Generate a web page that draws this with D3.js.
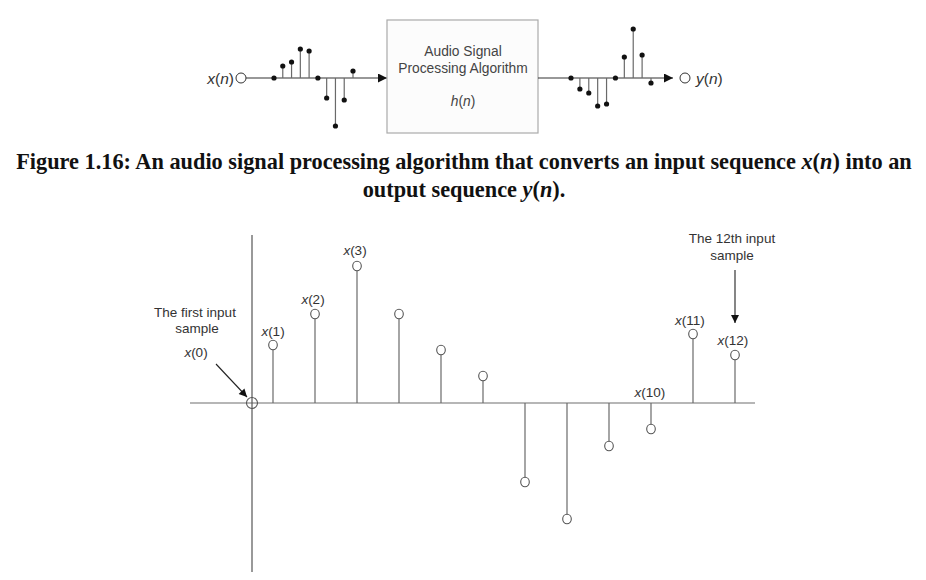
<!DOCTYPE html>
<html>
<head>
<meta charset="utf-8">
<script src="https://cdn.jsdelivr.net/npm/d3@7"></script>
<style>
  body { margin: 0; background: #fff; }
  svg text { font-family: "Liberation Sans", Arial, sans-serif; }
  svg text.caption { font-family: "Liberation Serif", "Times New Roman", serif; }
</style>
</head>
<body>
<svg id="fig" width="926" height="580"></svg>
<script>
// Top diagram: input / output sequences (relative heights)
const inputSeq  = [0, 0.24, 0.32, 0.58, 0.54, 0, -0.4, -0.96, -0.44, 0.14];
const outputSeq = [0, -0.22, -0.3, -0.56, -0.52, 0, 0.42, 0.98, 0.46, -0.1];

// Bottom chart: samples x(0)..x(12)
const sampleIdx = d3.range(0, 13);
const sampleVal = [0, 0.58, 0.89, 1.37, 0.89, 0.53, 0.27, -0.79, -1.16, -0.43, -0.26, 0.69, 0.48];
const labelled  = [1, 2, 3, 10, 11, 12];

const captionLines = [
  ["Figure 1.16: An audio signal processing algorithm that converts an input sequence ", "x", "(", "n", ") into an"],
  ["output sequence ", "y", "(", "n", ")."]
];

const svg = d3.select("#fig");
const ink = "#333", stemCol = "#6a6a6a";

// ---------- top block diagram ----------
const diag = svg.append("g");
const yTop = d3.scaleLinear().domain([-1, 1]).range([128, 28]);
const xIn  = d3.scaleLinear().domain([0, 9]).range([274, 353]);
const xOut = d3.scaleLinear().domain([0, 9]).range([571, 651]);

const defs = svg.append("defs");
defs.append("marker").attr("id", "tri")
    .attr("viewBox", "0 0 10 10").attr("refX", 10).attr("refY", 5)
    .attr("markerWidth", 13).attr("markerHeight", 9).attr("markerUnits", "userSpaceOnUse")
    .attr("orient", "auto")
  .append("path").attr("d", "M0,0L10,5L0,10z").attr("fill", "#111");
defs.append("marker").attr("id", "tri2")
    .attr("viewBox", "0 0 10 10").attr("refX", 10).attr("refY", 5)
    .attr("markerWidth", 10).attr("markerHeight", 8).attr("markerUnits", "userSpaceOnUse")
    .attr("orient", "auto")
  .append("path").attr("d", "M0,0L10,5L0,10z").attr("fill", "#111");

function mathText(g, parts, x, y, size, anchor, fill) {
  const t = g.append("text").attr("x", x).attr("y", y)
      .attr("font-size", size).attr("text-anchor", anchor).attr("fill", fill);
  parts.forEach(p => {
    t.append("tspan").attr("font-style", (p === "x" || p === "n" || p === "y" || p === "h") ? "italic" : "normal").text(p);
  });
  return t;
}

const y0 = yTop(0);
// input line
mathText(diag, ["x", "(", "n", ")"], 234, y0 + 5.5, 15.5, "end", ink);
diag.append("circle").attr("cx", 241).attr("cy", y0).attr("r", 5)
    .attr("fill", "#fff").attr("stroke", ink).attr("stroke-width", 1);
diag.append("line").attr("x1", 246).attr("x2", 387).attr("y1", y0).attr("y2", y0)
    .attr("stroke", ink).attr("stroke-width", 1.2).attr("marker-end", "url(#tri)");

function drawSeq(g, seq, xs) {
  g.selectAll(null).data(seq).enter().append("line")
      .attr("x1", (d, i) => xs(i)).attr("x2", (d, i) => xs(i))
      .attr("y1", y0).attr("y2", d => yTop(d))
      .attr("stroke", stemCol).attr("stroke-width", 1.2);
  g.selectAll(null).data(seq).enter().append("circle")
      .attr("cx", (d, i) => xs(i)).attr("cy", d => yTop(d))
      .attr("r", 2.6).attr("fill", "#111");
}
drawSeq(diag, inputSeq, xIn);

// processing box
diag.append("rect").attr("x", 387).attr("y", 20).attr("width", 151).attr("height", 113)
    .attr("fill", "#fcfcfc").attr("stroke", "#aaa").attr("stroke-width", 1.2);
diag.append("text").attr("x", 463).attr("y", 56).attr("text-anchor", "middle")
    .attr("font-size", 13.8).attr("fill", "#444").text("Audio Signal");
diag.append("text").attr("x", 463).attr("y", 73).attr("text-anchor", "middle")
    .attr("font-size", 13.8).attr("fill", "#444").text("Processing Algorithm");
mathText(diag, ["h", "(", "n", ")"], 463, 106, 13.8, "middle", "#444");

// output line
diag.append("line").attr("x1", 538).attr("x2", 673).attr("y1", y0).attr("y2", y0)
    .attr("stroke", ink).attr("stroke-width", 1.2).attr("marker-end", "url(#tri)");
drawSeq(diag, outputSeq, xOut);
diag.append("circle").attr("cx", 685).attr("cy", y0).attr("r", 5)
    .attr("fill", "#fff").attr("stroke", ink).attr("stroke-width", 1);
mathText(diag, ["y", "(", "n", ")"], 696, y0 + 5.5, 15.5, "start", ink);

// ---------- caption ----------
// first line is sized to span the page width; second line uses same size
const capY = [169, 197];
const capTexts = captionLines.map((parts, li) => {
  const t = svg.append("text").attr("class", "caption")
      .attr("x", 464).attr("y", capY[li])
      .attr("text-anchor", "middle")
      .attr("font-weight", "bold").attr("font-size", 22).attr("fill", "#111");
  parts.forEach(p => {
    t.append("tspan").attr("font-style", (p === "x" || p === "n" || p === "y") ? "italic" : "normal").text(p);
  });
  return t;
});
const w0 = capTexts[0].node().getComputedTextLength();
const capSize = Math.min(22.5, 22 * 896 / w0);
capTexts.forEach(t => t.attr("font-size", capSize));

// ---------- bottom stem chart ----------
const x = d3.scaleLinear().domain([1, 12]).range([273, 735]);
const y = d3.scaleLinear().domain([-1.69, 1.68]).range([572, 235]);
const xPos = n => n === 0 ? x(0.5) : x(n);   // x(0) sits on the vertical axis
const axisCol = "#6f6f6f";

const chart = svg.append("g");
chart.append("line").attr("x1", 190).attr("x2", 755).attr("y1", y(0)).attr("y2", y(0))
    .attr("stroke", axisCol).attr("stroke-width", 1.2);
chart.append("line").attr("x1", x(0.5)).attr("x2", x(0.5)).attr("y1", y(1.68)).attr("y2", y(-1.69))
    .attr("stroke", "#555").attr("stroke-width", 1.2);

const r = 4.3;
chart.selectAll(".stem").data(sampleIdx.filter(n => sampleVal[n] !== 0)).enter().append("line")
    .attr("class", "stem")
    .attr("x1", n => xPos(n)).attr("x2", n => xPos(n))
    .attr("y1", y(0))
    .attr("y2", n => y(sampleVal[n]) + (sampleVal[n] > 0 ? r : -r))
    .attr("stroke", stemCol).attr("stroke-width", 1.2);
chart.selectAll(".pt").data(sampleIdx).enter().append("ellipse")
    .attr("class", "pt")
    .attr("cx", n => xPos(n)).attr("cy", n => y(sampleVal[n]))
    .attr("rx", n => n === 0 ? 5.5 : r).attr("ry", n => n === 0 ? 5.5 : r + 0.4)
    .attr("fill", n => n === 0 ? "none" : "#fff")
    .attr("stroke", "#555").attr("stroke-width", 1.1);

// sample labels
const labelOff = { 1: [0, -9], 2: [-2, -10], 3: [-2, -11], 10: [-1, -31], 11: [-3, -9], 12: [-2, -10] };
labelled.forEach(n => {
  const ly = n === 10 ? y(0) - 6 : y(sampleVal[n]) + labelOff[n][1];
  mathText(chart, ["x", "(" + n + ")"], xPos(n) + labelOff[n][0], ly, 13.5, "middle", ink);
});

// annotations
const ann = [["The first input", 195, 317], ["sample", 197, 333]];
ann.forEach(a => chart.append("text").attr("x", a[1]).attr("y", a[2]).attr("text-anchor", "middle")
    .attr("font-size", 13.5).attr("fill", ink).text(a[0]));
mathText(chart, ["x", "(0)"], 196, 357, 13.5, "middle", ink);
chart.append("line").attr("x1", 216).attr("y1", 364).attr("x2", 247).attr("y2", 397)
    .attr("stroke", "#222").attr("stroke-width", 1.1).attr("marker-end", "url(#tri2)");

const ann2 = [["The 12th input", 732, 243], ["sample", 732, 260]];
ann2.forEach(a => chart.append("text").attr("x", a[1]).attr("y", a[2]).attr("text-anchor", "middle")
    .attr("font-size", 13.5).attr("fill", ink).text(a[0]));
chart.append("line").attr("x1", x(12)).attr("y1", 270).attr("x2", x(12)).attr("y2", 323)
    .attr("stroke", "#222").attr("stroke-width", 1.1).attr("marker-end", "url(#tri2)");
</script>
</body>
</html>
